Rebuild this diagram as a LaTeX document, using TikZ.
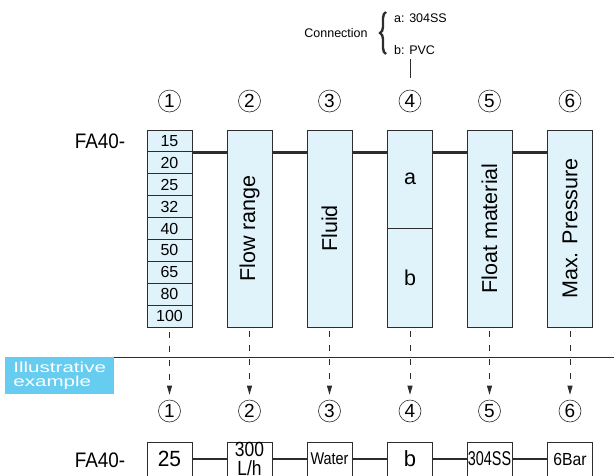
\documentclass[tikz,border=0pt]{standalone}
\usepackage{fontspec}
\setmainfont{Liberation Sans}
\usepackage{graphicx}
\usepackage{xcolor}
\usetikzlibrary{arrows.meta, positioning, calc, decorations.pathreplacing}
\definecolor{cellblue}{RGB}{224,243,251}
\definecolor{tagblue}{RGB}{102,204,240}
\definecolor{inkgray}{RGB}{45,45,45}
\newcommand{\fsz}[1]{\fontsize{#1}{#1}\selectfont}
\tikzset{
  col/.style={rectangle,draw=inkgray,fill=cellblue,line width=0.9pt,inner sep=0pt,
    minimum width=45pt},
  cell/.style={col,minimum height=21.9pt,font=\fsz{16}},
  vcol/.style={col,rotate=90,minimum width=197pt,minimum height=45pt,font=\fsz{21.5}},
  half/.style={col,minimum height=98.5pt,font=\fsz{21.5}},
  circnum/.style={circle,draw=inkgray,line width=0.6pt,inner sep=0pt,minimum size=22pt,
    font=\fsz{19}},
  exbox/.style={rectangle,draw=inkgray,fill=white,line width=0.9pt,inner sep=0pt,
    minimum width=45pt,minimum height=34pt,align=center},
  link/.style={line width=2.4pt,draw=inkgray},
  guide/.style={draw=inkgray,line width=0.9pt,dash pattern=on 6pt off 8pt,
    shorten <=4pt,shorten >=5pt,-{Triangle[length=9pt,width=5pt]}},
  small/.style={font=\fsz{12.5},inner sep=0pt}
}
\begin{document}
\begin{tikzpicture}[x=1pt,y=-1pt]
\clip (0,0) rectangle (614,475);

% connection note
\node[small] (conn) at (336,33) {Connection};
\node[small,anchor=west] (lbla) at (394,18) {a: 304SS};
\node[small,anchor=west] (lblb) at (394,50) {b: PVC};
\draw[inkgray,line width=2.4pt,decorate,decoration={brace,amplitude=6pt}]
  (386,54) -- (386,12);

% code columns
\node at (100,141) (fatop) {\fsz{21}\scalebox{0.9}[1]{FA40-}};
\foreach \v [count=\i] in {15,20,25,32,40,50,65,80,100}
  \node[cell] (c1-\i) at (169.5,{130+21.9*(\i-0.5)}) {\v};
\node[vcol] (c2) at (249.5,228.5) {Flow range};
\node[vcol] (c3) at (329.5,228.5) {Fluid};
\node[half] (c4a) at (410,179.25) {a};
\node[half] (c4b) at (410,277.75) {b};
\node[vcol] (c5) at (489.5,228.5) {Float material};
\node[vcol] (c6) at (570,228.5) {Max. Pressure};

\coordinate (rail) at (c1-1.south east);
\draw[link] (rail) -- (rail -| c2.north);
\draw[link] (c2.south |- rail) -- (rail -| c3.north);
\draw[link] (c3.south |- rail) -- (rail -| c4a.west);
\draw[link] (c4a.east |- rail) -- (rail -| c5.north);
\draw[link] (c5.south |- rail) -- (rail -| c6.north);

\foreach \x [count=\i] in {169.5,249.5,329.5,410,489.5,570} {
  \node[circnum] (n\i) at (\x,101) {\i};
  \node[circnum] (m\i) at (\x,411) {\i};
}
\draw[inkgray,line width=0.7pt,shorten <=12pt,shorten >=4pt] (n4.north) -- (n4.north |- lblb.south);

% illustrative example
\node[rectangle,fill=tagblue,text=white,anchor=north west,minimum width=109pt,
  minimum height=37pt,inner sep=0pt,align=left,font=\fontsize{14.5}{14}\selectfont]
  (tag) at (5,357) {\scalebox{1.42}[1]{Illustrative}\\\scalebox{1.42}[1]{example}};
\coordinate (sepend) at (614,357);
\draw[inkgray,line width=0.9pt] (tag.north east) -- (sepend);

\draw[guide] (c1-9.south) -- (m1.north);
\draw[guide] (c2.west) -- (m2.north);
\draw[guide] (c3.west) -- (m3.north);
\draw[guide] (c4b.south) -- (m4.north);
\draw[guide] (c5.west) -- (m5.north);
\draw[guide] (c6.west) -- (m6.north);

\node at (100,460) (faex) {\fsz{21}\scalebox{0.9}[1]{FA40-}};
\node[exbox,font=\fsz{22}] (e1) at (169.5,459) {\scalebox{0.95}[1]{25}};
\node[exbox,font=\fontsize{20.5}{19}\selectfont] (e2) at (249.5,459)
  {\scalebox{0.85}[1]{300}\\\scalebox{0.85}[1]{L/h}};
\node[exbox,font=\fsz{17}] (e3) at (329.5,459) {\scalebox{0.85}[1]{Water}};
\node[exbox,font=\fsz{22}] (e4) at (410,459) {b};
\node[exbox,font=\fsz{20}] (e5) at (489.5,459) {\scalebox{0.72}[1]{304SS}};
\node[exbox,font=\fsz{17.5}] (e6) at (570,459) {\scalebox{0.9}[1]{6Bar}};
\foreach \a/\b in {e1/e2,e2/e3,e3/e4,e4/e5,e5/e6}
  \draw[link] (\a.east) -- (\b.west);
\end{tikzpicture}
\end{document}
